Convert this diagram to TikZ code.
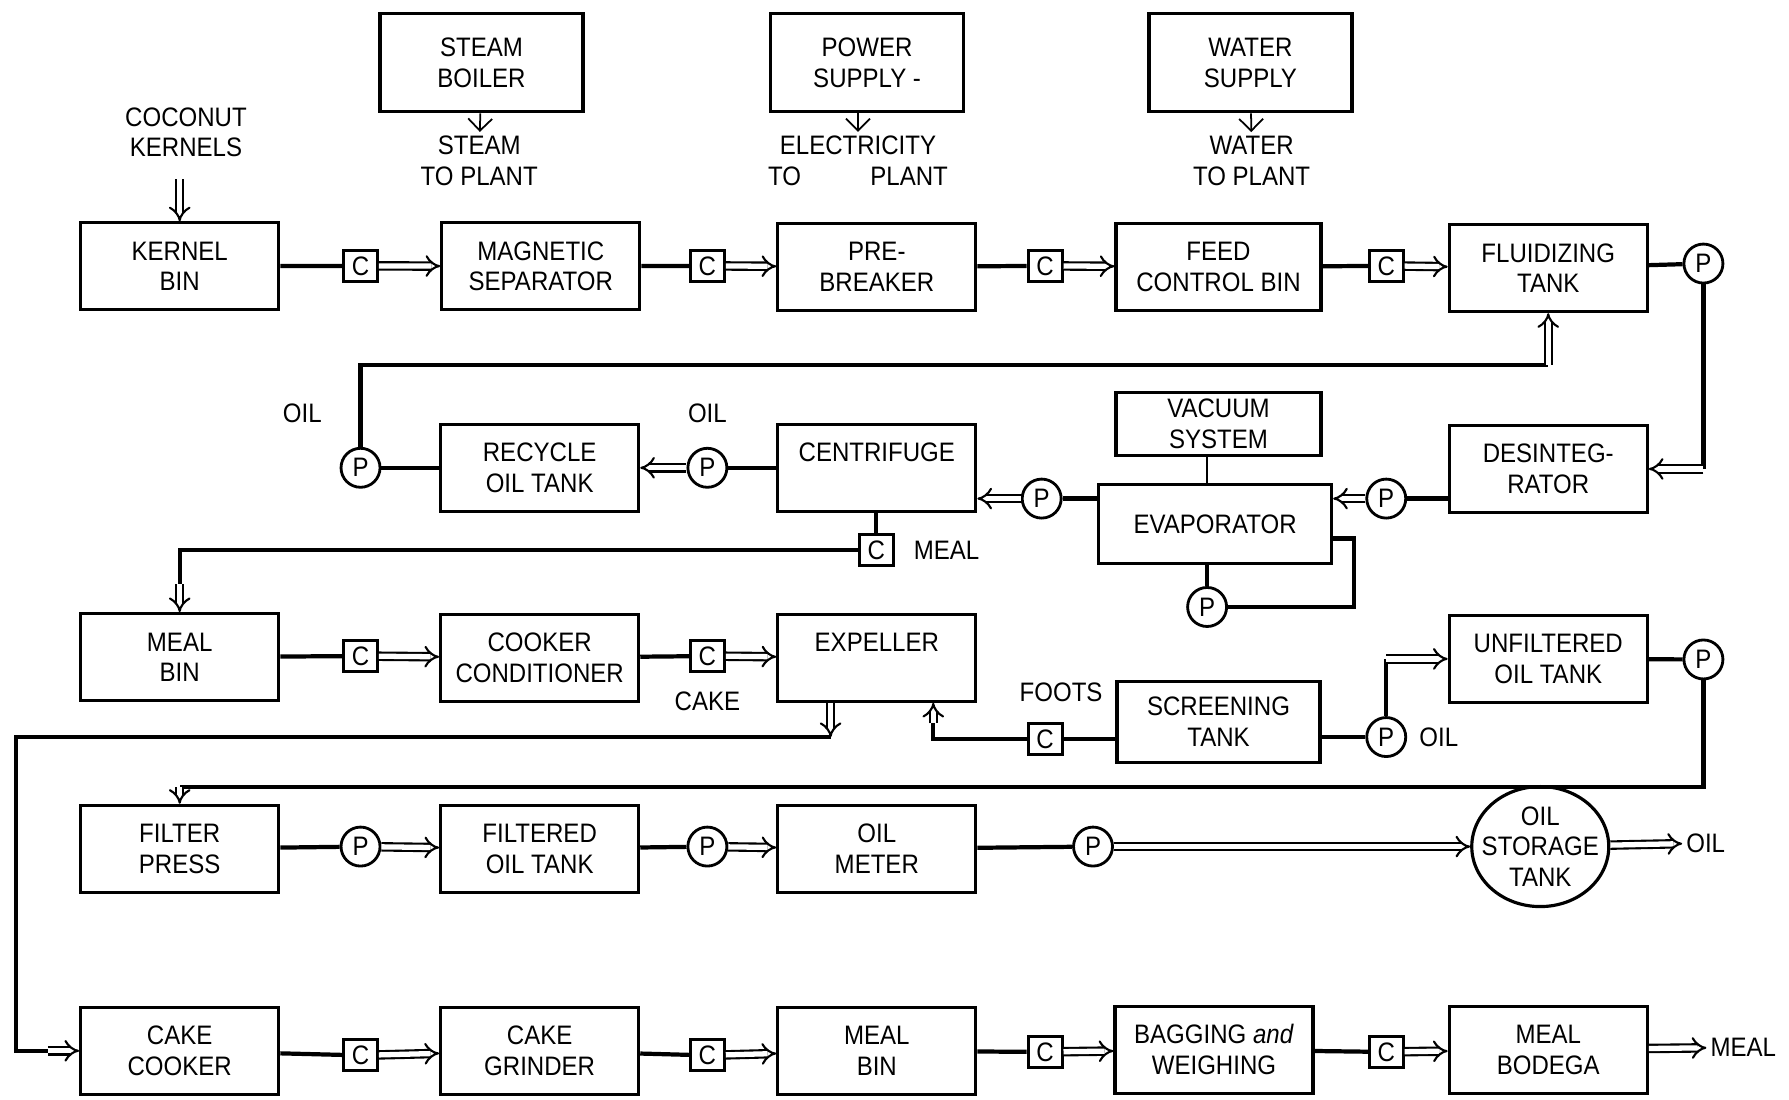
\documentclass[tikz,border=0pt]{standalone}
\usepackage{fontspec}
\setmainfont{Liberation Sans}[FakeStretch=0.9]
\usetikzlibrary{arrows.meta,positioning,shapes.geometric}

\begin{document}
\begin{tikzpicture}[x=0.11409mm,y=-0.11409mm,
  every node/.style={font=\fontsize{7.6}{8.7}\selectfont, align=center, inner sep=1pt},
  unit/.style={draw, line width=0.9pt, minimum width=19.8mm, minimum height=8.7mm},
  supply/.style={unit, minimum width=20.3mm, minimum height=9.8mm},
  conv/.style={draw, line width=0.8pt, minimum width=3.4mm, minimum height=3.1mm, inner sep=0pt},
  pump/.style={draw, circle, line width=0.8pt, minimum size=3.9mm, inner sep=0pt},
  pipe/.style={line width=1.2pt},
  feed/.style={double, line width=0.6pt, double distance=1.5pt, -{Implies}},
  tap/.style={line width=0.5pt, -{Straight Barb[length=1.2mm,width=2.4mm]}}]
  \useasboundingbox (0,0) rectangle (1568,964);

  % supplies
  \node[supply] (steam) at (422,55) {STEAM\\BOILER};
  \node[supply, minimum width=19.3mm] (power) at (760,55) {POWER\\SUPPLY -};
  \node[supply] (water) at (1096,55) {WATER\\SUPPLY};
  \node (steamto) at (420,141) {STEAM\\TO PLANT};
  \node (powerto) at (752,141) {ELECTRICITY\\TO\hspace{2.6em}PLANT};
  \node (waterto) at (1097,141) {WATER\\TO PLANT};
  \draw[tap] (steam) -- (steamto);
  \draw[tap] (power.south -| powerto) -- (powerto);
  \draw[tap] (water) -- (waterto);

  % row 1
  \node (coconut) at (163,116) {COCONUT\\KERNELS};
  \node[unit] (kbin) at (157.5,233.5) {KERNEL\\BIN};
  \node[unit] (magsep) at (474,233.5) {MAGNETIC\\SEPARATOR};
  \node[unit] (prebrk) at (768.5,234) {PRE-\\BREAKER};
  \node[unit, minimum width=20.5mm] (feedbin) at (1068,234) {FEED\\CONTROL BIN};
  \node[unit] (fluid) at (1357,235) {FLUIDIZING\\TANK};
  \node[conv] (c1) at (316,233) {C};
  \node[conv] (c2) at (620,233) {C};
  \node[conv] (c3) at (916,233) {C};
  \node[conv] (c4) at (1215,233) {C};
  \node[pump] (p1) at (1493,231) {P};
  \draw[feed] ([yshift=-1.8mm]coconut.south -| kbin.north) -- (kbin.north);
  \draw[pipe] (kbin) -- (c1);
  \draw[feed] (c1) -- (magsep);
  \draw[pipe] (magsep) -- (c2);
  \draw[feed] (c2) -- (prebrk);
  \draw[pipe] (prebrk) -- (c3);
  \draw[feed] (c3) -- (feedbin);
  \draw[pipe] (feedbin) -- (c4);
  \draw[feed] (c4) -- (fluid);
  \draw[pipe] (fluid) -- (p1);

  % row 2
  \node (oil1) at (265,362) {OIL};
  \node (oil2) at (620,362) {OIL};
  \node[pump] (p2) at (316,410) {P};
  \node[unit] (recycle) at (473,410) {RECYCLE\\OIL TANK};
  \node[pump] (p3) at (620,410) {P};
  \node[unit] (centrifuge) at (768.5,410) {CENTRIFUGE\\~};
  \node[pump] (p4) at (913,437) {P};
  \node[unit, minimum width=20.5mm, minimum height=6.3mm] (vacuum) at (1068,371.5) {VACUUM\\SYSTEM};
  \node[unit, minimum width=23.3mm, minimum height=7.9mm] (evap) at (1065,459.5) {EVAPORATOR};
  \node[pump] (p5) at (1215,437) {P};
  \node[unit] (desint) at (1357,411) {DESINTEG-\\RATOR};
  \node[pump] (p6) at (1058,532) {P};
  \node[conv] (cmeal) at (768,482) {C};
  \node[right=1.5mm of cmeal] (meal1) {MEAL};
  \coordinate (r1) at (1357,320);
  \coordinate (e1) at (1167,472);
  \coordinate (e2) at (1187,532);
  \coordinate (m1) at (157.5,512);
  \draw[pipe] (p1) -- (p1 |- desint.east) coordinate (d1);
  \draw[feed] (d1) -- (desint.east);
  \draw[pipe] (p5 -| desint.west) -- (p5);
  \draw[feed] (p5) -- (p5 -| evap.east);
  \draw[pipe] (p4 -| evap.west) -- (p4);
  \draw[feed] (p4) -- (p4 -| centrifuge.east);
  \draw[line width=0.6pt] (vacuum.south -| p6) -- (evap.north -| p6);
  \draw[pipe] (e1) -| (e2) -- (p6);
  \draw[pipe] (p6) -- (p6 |- evap.south);
  \draw[pipe] (centrifuge) -- (p3);
  \draw[feed] (p3) -- (recycle);
  \draw[pipe] (recycle) -- (p2);
  \draw[pipe] (p2) |- (r1);
  \draw[feed] (r1) -- (fluid.south);
  \draw[pipe] (cmeal |- centrifuge.south) -- (cmeal);
  \draw[pipe] (cmeal) -| (m1);

  % row 3
  \node[unit] (mealbin) at (157.5,576) {MEAL\\BIN};
  \node[conv] (c5) at (316,575) {C};
  \node[unit] (cooker) at (473,576.5) {COOKER\\CONDITIONER};
  \node[conv] (c6) at (620,575) {C};
  \node[below=1.5mm of c6] (cake) {CAKE};
  \node[unit] (expeller) at (768.5,576.5) {EXPELLER\\~};
  \node[conv] (cfoots) at (916,648) {C};
  \node (foots) at (930,607) {FOOTS};
  \node[unit, minimum width=20.3mm, minimum height=8.1mm] (screen) at (1068,632.5) {SCREENING\\TANK};
  \node[pump] (p7) at (1215,646) {P};
  \node[right=0.8mm of p7] (oil3) {OIL};
  \node[unit] (unfilt) at (1357,577.5) {UNFILTERED\\OIL TANK};
  \node[pump] (p8) at (1493,578) {P};
  \coordinate (x1) at (728,646);
  \coordinate (x2) at (14,646);
  \coordinate (k1) at (42,921);
  \coordinate (f1) at (818,634);
  \coordinate (g1) at (157.5,690);
  \draw[feed] (m1) -- (mealbin);
  \draw[pipe] (mealbin) -- (c5);
  \draw[feed] (c5) -- (cooker);
  \draw[pipe] (cooker) -- (c6);
  \draw[feed] (c6) -- (expeller);
  \draw[feed] (x1 |- expeller.south) -- (x1);
  \draw[pipe] (x1) -- (x2) |- (k1);
  \draw[pipe] (cfoots -| screen.west) -- (cfoots);
  \draw[pipe] (cfoots) -| (f1);
  \draw[feed] (f1) -- (f1 |- expeller.south);
  \draw[pipe] (p7 -| screen.east) -- (p7);
  \draw[pipe] (p7) -- (p7 |- unfilt.west) coordinate (u1);
  \draw[feed] (u1) -- (unfilt.west);
  \draw[pipe] (unfilt) -- (p8);
  \draw[pipe] (p8) |- (g1);

  % row 4
  \node[unit] (fpress) at (157.5,744) {FILTER\\PRESS};
  \node[pump] (p9) at (316,742) {P};
  \node[unit] (ftank) at (473,744) {FILTERED\\OIL TANK};
  \node[pump] (p10) at (620,742) {P};
  \node[unit] (meter) at (768.5,744) {OIL\\METER};
  \node[pump] (p11) at (958,742) {P};
  \node[draw, ellipse, line width=0.9pt, minimum width=13.7mm, minimum height=12mm,
    label={[align=center]center:OIL\\STORAGE\\TANK}] (storage) at (1350,742) {};
  \node (oilout) at (1495,739) {OIL};
  \draw[feed] (g1) -- (fpress);
  \draw[pipe] (fpress) -- (p9);
  \draw[feed] (p9) -- (ftank);
  \draw[pipe] (ftank) -- (p10);
  \draw[feed] (p10) -- (meter);
  \draw[pipe] (meter) -- (p11);
  \draw[feed] (p11) -- (storage);
  \draw[feed] (storage) -- (oilout);

  % row 5
  \node[unit] (cakecook) at (157.5,921) {CAKE\\COOKER};
  \node[conv] (c7) at (316,925) {C};
  \node[unit] (cgrind) at (473,921) {CAKE\\GRINDER};
  \node[conv] (c8) at (620,925) {C};
  \node[unit] (mbin2) at (768.5,921) {MEAL\\BIN};
  \node[conv] (c9) at (916,922) {C};
  \node[unit] (bagging) at (1064,920) {BAGGING \textit{and}\\WEIGHING};
  \node[conv] (c10) at (1215,922) {C};
  \node[unit] (bodega) at (1357,920) {MEAL\\BODEGA};
  \node (mealout) at (1528,918) {MEAL};
  \draw[feed] (k1) -- (cakecook);
  \draw[pipe] (cakecook) -- (c7);
  \draw[feed] (c7) -- (cgrind);
  \draw[pipe] (cgrind) -- (c8);
  \draw[feed] (c8) -- (mbin2);
  \draw[pipe] (mbin2) -- (c9);
  \draw[feed] (c9) -- (bagging);
  \draw[pipe] (bagging) -- (c10);
  \draw[feed] (c10) -- (bodega);
  \draw[feed] (bodega) -- (mealout);
\end{tikzpicture}
\end{document}
